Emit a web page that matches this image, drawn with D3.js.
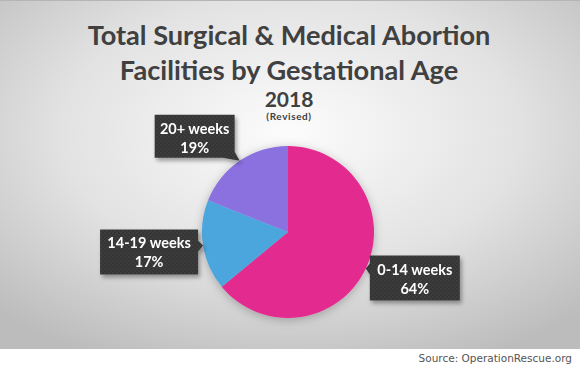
<!DOCTYPE html>
<html lang="en">
<head>
<meta charset="utf-8">
<title>Total Surgical & Medical Abortion Facilities by Gestational Age</title>
<script src="https://d3js.org/d3.v7.min.js"></script>
<style>
  html, body { margin: 0; padding: 0; background: #fff; }
  svg { display: block; }
</style>
</head>
<body>
<div id="chart"></div>
<script>
// data
const categories = ["0-14 weeks", "14-19 weeks", "20+ weeks"];
const shares = [64, 17, 19];
const sliceColors = ["#e32b8f", "#4ca6dd", "#8b6fe0"];

// label box placement relative to the point on the rim at each slice's middle
// dx/dy = box corner offset from that point, w/h = box size
const boxLayout = [
  { dx: 4,   dy: -13, w: 90, h: 45, tip: "left" },
  { dx: -103, dy: -16, w: 98, h: 45, tip: "right" },
  { dx: -85, dy: -46, w: 80, h: 43, tip: "bottomright" }
];

const W = 580, H = 369, plotH = 349;
const cx = 288, cy = 232, R = 86;

const svg = d3.select("#chart").append("svg")
  .attr("width", W).attr("height", H);

const defs = svg.append("defs");

// soft grey radial background
const bg = defs.append("radialGradient").attr("id", "bg")
  .attr("cx", "50%").attr("cy", "38%").attr("r", "72%");
bg.append("stop").attr("offset", "0%").attr("stop-color", "#fcfcfc");
bg.append("stop").attr("offset", "55%").attr("stop-color", "#e2e2e2");
bg.append("stop").attr("offset", "100%").attr("stop-color", "#bcbcbc");

// dotted dark texture for the label boxes
const pat = defs.append("pattern").attr("id", "dots")
  .attr("width", 4).attr("height", 4).attr("patternUnits", "userSpaceOnUse");
pat.append("rect").attr("width", 4).attr("height", 4).attr("fill", "#363636");
pat.append("circle").attr("cx", 1).attr("cy", 1).attr("r", 0.7).attr("fill", "#4a4a4a");
pat.append("circle").attr("cx", 3).attr("cy", 3).attr("r", 0.7).attr("fill", "#444");

const shadow = defs.append("filter").attr("id", "shadow")
  .attr("x", "-20%").attr("y", "-20%").attr("width", "150%").attr("height", "160%");
shadow.append("feDropShadow").attr("dx", 2).attr("dy", 3)
  .attr("stdDeviation", 2).attr("flood-color", "#000").attr("flood-opacity", 0.35);

const pieShadow = defs.append("filter").attr("id", "pieShadow")
  .attr("x", "-30%").attr("y", "-30%").attr("width", "160%").attr("height", "160%");
pieShadow.append("feDropShadow").attr("dx", 0).attr("dy", 2)
  .attr("stdDeviation", 5).attr("flood-color", "#000").attr("flood-opacity", 0.25);

svg.append("rect").attr("width", W).attr("height", plotH).attr("fill", "url(#bg)");
svg.append("line").attr("x1", 0).attr("x2", W).attr("y1", 0.5).attr("y2", 0.5)
  .attr("stroke", "#b5b5b5");

// titles
const titleFont = "Lato, 'Open Sans', sans-serif";
const t1 = svg.append("text").attr("x", 289).attr("y", 45)
  .attr("text-anchor", "middle").attr("font-family", titleFont)
  .attr("font-weight", "bold").attr("font-size", 28).attr("fill", "#404040")
  .text("Total Surgical & Medical Abortion");
const t2 = svg.append("text").attr("x", 289).attr("y", 80)
  .attr("text-anchor", "middle").attr("font-family", titleFont)
  .attr("font-weight", "bold").attr("font-size", 28).attr("fill", "#404040")
  .text("Facilities by Gestational Age");
// size the title so the first line spans the same width as the original
const fit = 28 * 403 / t1.node().getComputedTextLength();
t1.attr("font-size", fit);
t2.attr("font-size", fit);

svg.append("text").attr("x", 289).attr("y", 107)
  .attr("text-anchor", "middle").attr("font-family", titleFont)
  .attr("font-weight", "bold").attr("font-size", 21).attr("fill", "#404040")
  .text("2018");
svg.append("text").attr("x", 289).attr("y", 120)
  .attr("text-anchor", "middle").attr("font-family", titleFont)
  .attr("font-weight", "bold").attr("font-size", 10).attr("fill", "#404040")
  .attr("letter-spacing", 0.6)
  .text("(Revised)");

// pie
const pie = d3.pie().sort(null).value(d => d.v);
const arcs = pie(categories.map((c, i) => ({ c, v: shares[i], color: sliceColors[i] })));
const arc = d3.arc().innerRadius(0).outerRadius(R);

const g = svg.append("g").attr("transform", `translate(${cx},${cy})`);
g.append("g").attr("filter", "url(#pieShadow)")
  .selectAll("path").data(arcs).join("path")
  .attr("d", arc)
  .attr("fill", d => d.data.color);

// callout labels
const rim = d3.arc().innerRadius(R).outerRadius(R);
const labels = g.selectAll("g.lab").data(arcs).join("g").attr("class", "lab")
  .attr("filter", "url(#shadow)");

labels.each(function(d, i) {
  const L = boxLayout[i];
  const [px, py] = rim.centroid(d);
  const x0 = px + L.dx, y0 = py + L.dy, x1 = x0 + L.w, y1 = y0 + L.h;
  let path;
  if (L.tip === "left") {
    path = `M${x0},${y0} H${x1} V${y1} H${x0} V${py + 6} L${px},${py} L${x0},${py - 5} Z`;
  } else if (L.tip === "right") {
    path = `M${x0},${y0} H${x1} V${py - 5} L${px},${py} L${x1},${py + 6} V${y1} H${x0} Z`;
  } else {
    path = `M${x0},${y0} H${x1} V${y1 - 6} L${px},${py} L${x1 - 12},${y1} H${x0} Z`;
  }
  const lab = d3.select(this);
  lab.append("path").attr("d", path).attr("fill", "url(#dots)");
  const mx = (x0 + x1) / 2;
  lab.append("text").attr("x", mx).attr("y", y0 + 19)
    .attr("text-anchor", "middle").attr("font-family", titleFont)
    .attr("font-weight", "bold").attr("font-size", 14.5).attr("fill", "#fff")
    .text(d.data.c);
  lab.append("text").attr("x", mx).attr("y", y0 + 38)
    .attr("text-anchor", "middle").attr("font-family", titleFont)
    .attr("font-weight", "bold").attr("font-size", 14.5).attr("fill", "#fff")
    .text(d.data.v + "%");
});

// source note
svg.append("text").attr("x", 572).attr("y", 362)
  .attr("text-anchor", "end").attr("font-family", "'DejaVu Sans', Verdana, sans-serif")
  .attr("font-size", 10.5).attr("fill", "#555")
  .text("Source: OperationRescue.org");
</script>
</body>
</html>
